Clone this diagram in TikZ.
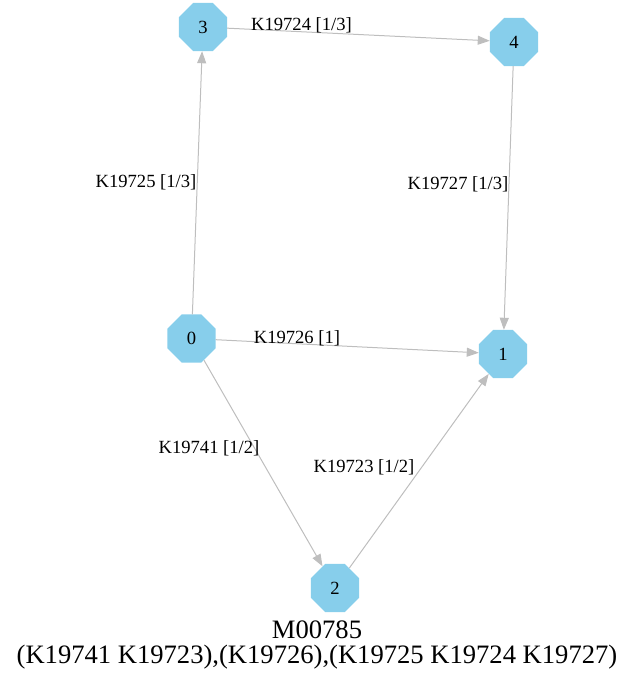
\documentclass[tikz,border=0pt]{standalone}
\usepackage{fontspec}
\setmainfont{Liberation Serif}
\usetikzlibrary{shapes.geometric,arrows.meta}
\definecolor{nodeblue}{RGB}{135,206,235}
\definecolor{edgegray}{RGB}{190,190,190}
\tikzset{
  octa/.style={regular polygon, regular polygon sides=8, minimum size=52pt, inner sep=0pt, fill=nodeblue, draw=none, font=\fontsize{18.6}{20}\selectfont},
  conn/.style={draw=edgegray, line width=1pt, -{Triangle[length=12pt,width=9pt]}},
  elabel/.style={font=\fontsize{18.6}{20}\selectfont, inner sep=0pt},
  ttl/.style={font=\fontsize{26.6}{30}\selectfont, inner sep=0pt}
}
\begin{document}
\begin{tikzpicture}[x=1pt,y=-1pt]
\useasboundingbox (0,0) rectangle (634,680);
\node[octa] (n3) at (203,27) {3};
\node[octa] (n4) at (514,42) {4};
\node[octa] (n0) at (191.5,338.5) {0};
\node[octa] (n1) at (503,354) {1};
\node[octa] (n2) at (335,588) {2};
\draw[conn] (n0) -- (n3);
\draw[conn] (n3) -- (n4);
\draw[conn] (n4) -- (n1);
\draw[conn] (n0) -- (n1);
\draw[conn] (n0) -- (n2);
\draw[conn] (n2) -- (n1);
\node[elabel] (l34) at (301.5,25) {K19724 [1/3]};
\node[elabel] (l03) at (146,182) {K19725 [1/3]};
\node[elabel] (l41) at (458,184) {K19727 [1/3]};
\node[elabel] (l01) at (297,338) {K19726 [1]};
\node[elabel] (l02) at (209,448) {K19741 [1/2]};
\node[elabel] (l21) at (364,467) {K19723 [1/2]};
\node[ttl] (t1) at (317,630) {M00785};
\node[ttl] (t2) at (317,657) {(K19741 K19723),(K19726),(K19725 K19724 K19727)};
\end{tikzpicture}
\end{document}
